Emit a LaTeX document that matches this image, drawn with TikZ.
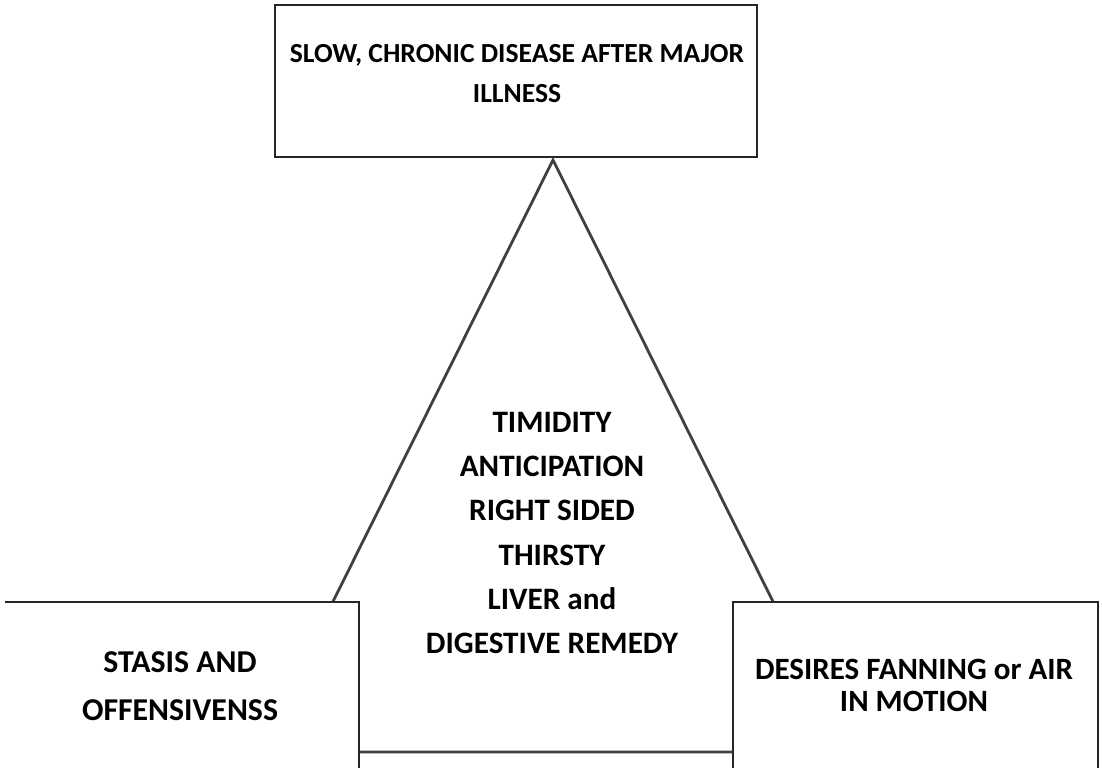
\documentclass[tikz,border=0pt]{standalone}
\usepackage{fontspec}
\setmainfont{Carlito}
\usetikzlibrary{calc}

\begin{document}
\begin{tikzpicture}[x=0.5pt, y=-0.5pt,
    lbl/.style={anchor=base, inner sep=0pt, font=\bfseries\fontsize{#1}{18}\selectfont},
    lbl/.default=15,
    boxline/.style={line width=0.6pt, draw=black!85},
    sideline/.style={line width=1.4pt, draw=black!75}]
                \useasboundingbox (0,0) rectangle (1102,767);
                \clip (0,0) rectangle (1102,767);

                % triangle (behind the boxes)
                \draw[sideline] (258,752) -- (553,160) -- (848,752) -- cycle;

                % top box
                \draw[boxline] (275,5) rectangle (757,157);
                \foreach \y/\txt [count=\i] in {62/{SLOW, CHRONIC DISEASE AFTER MAJOR}, 102/ILLNESS} {
                    \node[lbl=13.8] (top-\i) at (517,\y) {\txt};
                }

                % left box
                \fill[white] (5,602) rectangle (359,800);
                \draw[boxline] (5,602) -- (359,602) -- (359,800);
                \foreach \y/\txt [count=\i] in {672/STASIS AND, 720/OFFENSIVENSS} {
                    \node[lbl=15.9] (left-\i) at (180,\y) {\txt};
                }

                % right box
                \fill[white] (733,602) rectangle (1098,800);
                \draw[boxline] (733,800) -- (733,602) -- (1098,602) -- (1098,800);
                \foreach \y/\txt [count=\i] in {679/DESIRES FANNING or AIR, 711/IN MOTION} {
                    \node[lbl=15.5] (right-\i) at (914,\y) {\txt};
                }

                % inside the triangle
                \foreach \y/\txt [count=\i] in {432/TIMIDITY, 476/ANTICIPATION, 520/RIGHT SIDED,
                        565/THIRSTY, 609/LIVER and, 653/DIGESTIVE REMEDY} {
                    \node[lbl=15.6] (mid-\i) at (552,\y) {\txt};
                }
\end{tikzpicture}
\end{document}
